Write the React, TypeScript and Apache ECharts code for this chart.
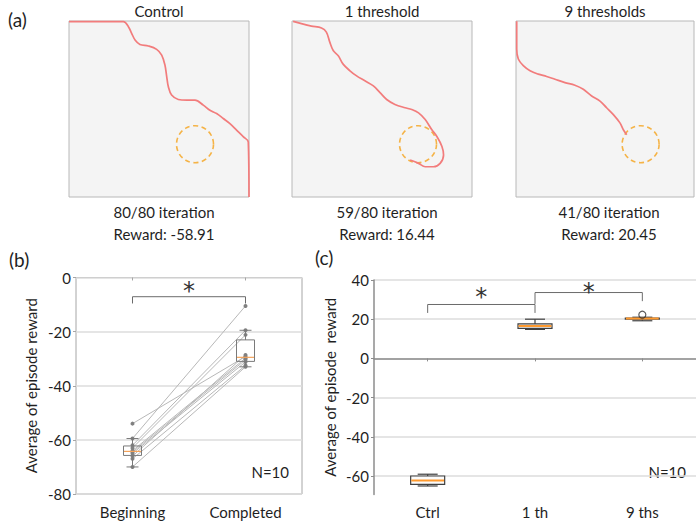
import React, { useEffect, useRef } from 'react';
import * as echarts from 'echarts';

const FONT = 'Lato, "Noto Sans", sans-serif';
const TEXT = '#1f1f1f';

// ---------- panel (a) ----------
const panelTitles = ['Control', '1 threshold', '9 thresholds'];
const iterationTexts = ['80/80 iteration', '59/80 iteration', '41/80 iteration'];
const rewardTexts = ['Reward: -58.91', 'Reward: 16.44', 'Reward: 20.45'];

// trajectories in % of the arena (x from left, y from top)
const controlPath = [
  [0, 0.4], [30.2, 0.4], [33.0, 3.2], [34.8, 7.0], [36.7, 10.8], [39.4, 13.3], [44.1, 14.2],
  [48.7, 16.1], [51.5, 19.4], [53.3, 25.0], [54.3, 31.7], [55.2, 37.4], [57.0, 42.1],
  [60.7, 44.6], [65.4, 45.0], [70.0, 45.0], [74.6, 47.8], [78.3, 50.7], [82.0, 52.6],
  [85.7, 55.4], [89.4, 58.3], [93.1, 62.0], [96.9, 65.8], [99.6, 68.7], [100, 100],
];
const oneThresholdPath = [
  [0.6, 0.2], [5.2, 1.5], [10.8, 2.9], [16.4, 4.0], [19.1, 6.3], [21.0, 12.0], [22.9, 16.8],
  [25.7, 19.7], [28.4, 24.5], [32.2, 28.3], [35.9, 31.2], [40.5, 34.0], [45.2, 36.9],
  [48.9, 40.7], [52.6, 44.6], [57.2, 47.4], [62.8, 49.3], [66.5, 50.3], [70.3, 52.2],
  [74.0, 56.0], [77.7, 61.8], [80.5, 65.6], [83.3, 71.3], [84.2, 76.1], [82.3, 80.9],
  [78.6, 82.8], [74.0, 82.8], [70.3, 80.9], [65.6, 79.0],
];
const nineThresholdPath = [
  [0.4, 0.2], [0.4, 15.9], [1.3, 21.6], [4.1, 25.4], [7.9, 28.3], [12.5, 30.2], [17.2, 31.5],
  [21.9, 33.1], [27.5, 35.0], [33.1, 36.5], [37.8, 38.8], [42.5, 42.6], [47.2, 45.5],
  [50.9, 49.3], [54.7, 53.2], [58.4, 57.9], [60.3, 61.8], [62.2, 64.6],
];
const goalCenter = [70, 70];

// ---------- panel (b) ----------
const bCategories = ['Beginning', 'Completed'];
const bBeginning = [-54, -59.5, -62, -63, -64, -64.5, -65, -66, -67, -70];
const bCompleted = [-29.2, -10.5, -19.5, -21.2, -29.8, -30.4, -31.2, -28.6, -32.5, -33];
// [from, to, top, left leg end, right leg end, star y]
const bBracket = [0, 1, -7.1, -9.6, -9.6, -3];

// ---------- panel (c) ----------
const cCategories = ['Ctrl', '1 th', '9 ths'];
const cMin = [-65.1, 14.8, 19.2];
const cQ1 = [-64.3, 15.3, 20.0];
const cMedian = [-62.3, 16.5, 20.3];
const cQ3 = [-60.0, 17.6, 20.6];
const cMax = [-59.1, 20.0, 21.0];
const cOutliers = [[2, 22.3]];
const cTicks = [-60, -40, -20, 0, 20, 40];
const cBrackets = [
  [0, 1, 27.5, 23.2, 23.2, 34],
  [1, 2, 33.6, 27.8, 29.2, 36.6],
];

function quantile(sorted: number[], p: number) {
  const pos = (sorted.length - 1) * p;
  const lo = Math.floor(pos);
  const hi = Math.ceil(pos);
  return sorted[lo] + (sorted[hi] - sorted[lo]) * (pos - lo);
}
function boxStats(vals: number[]) {
  const s = [...vals].sort((a, b) => a - b);
  const q1 = quantile(s, 0.25);
  const med = quantile(s, 0.5);
  const q3 = quantile(s, 0.75);
  const iqr = q3 - q1;
  const lo = Math.min(...s.filter((v) => v >= q1 - 1.5 * iqr));
  const hi = Math.max(...s.filter((v) => v <= q3 + 1.5 * iqr));
  return [lo, q1, med, q3, hi];
}

function boxRenderer(boxW: number, capW: number, stroke: string, fill: string, median: string, medW: number, lw: number) {
  return (_params: any, api: any) => {
    const c = api.value(0);
    const pts = [1, 2, 3, 4, 5].map((i) => api.coord([c, api.value(i)]));
    const x = pts[0][0];
    const [yLo, yQ1, yMed, yQ3, yHi] = pts.map((p: number[]) => p[1]);
    const ls = { stroke, lineWidth: lw };
    return {
      type: 'group',
      children: [
        { type: 'line', shape: { x1: x, y1: yHi, x2: x, y2: yQ3 }, style: ls },
        { type: 'line', shape: { x1: x, y1: yQ1, x2: x, y2: yLo }, style: ls },
        { type: 'line', shape: { x1: x - capW / 2, y1: yHi, x2: x + capW / 2, y2: yHi }, style: ls },
        { type: 'line', shape: { x1: x - capW / 2, y1: yLo, x2: x + capW / 2, y2: yLo }, style: ls },
        { type: 'rect', shape: { x: x - boxW / 2, y: yQ3, width: boxW, height: yQ1 - yQ3 }, style: { fill, stroke, lineWidth: lw } },
        { type: 'line', shape: { x1: x - boxW / 2 + lw / 2, y1: yMed, x2: x + boxW / 2 - lw / 2, y2: yMed }, style: { stroke: median, lineWidth: medW } },
      ],
    };
  };
}

function bracketRenderer(_params: any, api: any) {
  const x1 = api.value(0);
  const x2 = api.value(1);
  const top = api.value(2);
  const a = api.coord([x1, api.value(3)]);
  const b = api.coord([x1, top]);
  const c = api.coord([x2, top]);
  const d = api.coord([x2, api.value(4)]);
  const s1 = api.coord([x1, api.value(5)]);
  const s2 = api.coord([x2, api.value(5)]);
  return {
    type: 'group',
    children: [
      { type: 'polyline', shape: { points: [a, b, c, d] }, style: { stroke: '#6b6b6b', lineWidth: 1, fill: 'none' } },
      {
        type: 'text',
        x: (s1[0] + s2[0]) / 2,
        y: s1[1] + 5,
        style: {
          text: '*', fontSize: 24, fontFamily: '"DejaVu Sans", sans-serif', fill: '#333333',
          align: 'center', verticalAlign: 'middle', textAlign: 'center', textVerticalAlign: 'middle',
        },
      },
    ],
  };
}

function txt(text: string, x: number, y: number, size: number, align = 'center') {
  return {
    type: 'text',
    x,
    y,
    style: {
      text, fontSize: size, fontFamily: FONT, fill: TEXT,
      align, verticalAlign: 'middle', textAlign: align, textVerticalAlign: 'middle',
    },
  };
}

export default function App() {
  const ref = useRef<HTMLDivElement>(null);
  useEffect(() => {
    document.body.style.margin = '0';
    const chart = echarts.init(ref.current!, undefined, { renderer: 'svg' });

    const aLefts = [69, 292, 516];
    const aWidths = [180, 180, 178];
    const aCenters = [159, 382, 605];
    const aTextCenters = [164, 387, 609];
    const paths = [controlPath, oneThresholdPath, nineThresholdPath];

    const grids: any[] = aLefts.map((l, i) => ({
      left: l, top: 21, width: aWidths[i], height: 176, show: true,
      backgroundColor: '#f4f4f4', borderColor: '#b8b8b8', borderWidth: 1,
    }));
    grids.push({ left: 76, top: 277.5, width: 226, height: 216.5, show: true, backgroundColor: 'transparent', borderColor: '#a6a6a6', borderWidth: 1 });
    grids.push({ left: 374, top: 280, width: 330, height: 214.6 });

    const xAxes: any[] = aLefts.map((_, i) => ({ type: 'value', gridIndex: i, min: 0, max: 100, show: false }));
    const yAxes: any[] = aLefts.map((_, i) => ({ type: 'value', gridIndex: i, min: 0, max: 100, inverse: true, show: false }));

    xAxes.push({
      type: 'category', gridIndex: 3, data: bCategories, boundaryGap: true,
      axisLine: { show: false },
      axisTick: { show: true, alignWithLabel: true, length: 3, lineStyle: { color: '#a6a6a6' } },
      axisLabel: { fontSize: 15, fontFamily: FONT, color: TEXT, margin: 10 },
    });
    yAxes.push({
      type: 'value', gridIndex: 3, min: -80, max: 0, interval: 20,
      name: 'Average of episode reward', nameLocation: 'middle', nameGap: 38,
      nameTextStyle: { fontSize: 15, fontFamily: FONT, color: TEXT },
      axisLine: { show: false },
      axisTick: { show: true, length: 3, lineStyle: { color: '#a6a6a6' } },
      axisLabel: { fontSize: 15, fontFamily: FONT, color: TEXT, margin: 5 },
      splitLine: { show: true, lineStyle: { color: '#dcdcdc', width: 1.5 } },
    });

    xAxes.push({
      type: 'category', gridIndex: 4, data: cCategories, boundaryGap: true,
      axisLine: { show: true, lineStyle: { color: '#8c8c8c', width: 1.5 } },
      axisTick: { show: true, alignWithLabel: true, length: 3, lineStyle: { color: '#8c8c8c' } },
      axisLabel: { fontSize: 15, fontFamily: FONT, color: TEXT, margin: 10 },
    });
    yAxes.push({
      type: 'value', gridIndex: 4, min: -69.5, max: 40,
      name: 'Average of episode  reward', nameLocation: 'middle', nameGap: 37,
      nameTextStyle: { fontSize: 15, fontFamily: FONT, color: TEXT },
      axisLine: { show: true, lineStyle: { color: '#8c8c8c', width: 1.5 } },
      axisTick: { show: true, length: 3, customValues: cTicks, lineStyle: { color: '#8c8c8c' } },
      axisLabel: { fontSize: 15, fontFamily: FONT, color: TEXT, margin: 5, customValues: cTicks },
      splitLine: { show: true, lineStyle: { color: '#dcdcdc', width: 1.5 } },
    });

    const series: any[] = [];
    paths.forEach((p, i) => {
      series.push({
        type: 'line', xAxisIndex: i, yAxisIndex: i, data: p, smooth: 0.35, showSymbol: false, clip: false,
        lineStyle: { color: '#f27c7c', width: 1.7 },
      });
      series.push({
        type: 'scatter', xAxisIndex: i, yAxisIndex: i, data: [goalCenter], symbolSize: 37,
        itemStyle: { color: 'rgba(0,0,0,0)', borderColor: '#f5a31a', borderWidth: 1.6, borderType: [5, 3.5] },
      });
    });

    bBeginning.forEach((v, i) => {
      series.push({
        type: 'line', xAxisIndex: 3, yAxisIndex: 3, data: [v, bCompleted[i]],
        symbol: 'circle', symbolSize: 4, showSymbol: true,
        itemStyle: { color: '#808080' }, lineStyle: { color: '#b8b8b8', width: 1 }, z: 2,
      });
    });
    series.push({
      type: 'custom', xAxisIndex: 3, yAxisIndex: 3,
      data: [[0, ...boxStats(bBeginning)], [1, ...boxStats(bCompleted)]],
      encode: { x: 0, y: [1, 2, 3, 4, 5] },
      renderItem: boxRenderer(18, 12, '#7a7a7a', 'rgba(255,255,255,0)', '#f5a35a', 1.2, 1),
      z: 3,
    });
    series.push({
      type: 'custom', xAxisIndex: 3, yAxisIndex: 3, data: [bBracket],
      encode: { x: [0, 1], y: [2, 3, 4, 5] },
      renderItem: bracketRenderer, z: 4,
    });

    series.push({
      type: 'custom', xAxisIndex: 4, yAxisIndex: 4,
      data: cCategories.map((_, i) => [i, cMin[i], cQ1[i], cMedian[i], cQ3[i], cMax[i]]),
      encode: { x: 0, y: [1, 2, 3, 4, 5] },
      renderItem: boxRenderer(34, 20, '#404040', '#fbfbfb', '#ff9a2e', 2, 1.2),
      z: 3,
    });
    series.push({
      type: 'scatter', xAxisIndex: 4, yAxisIndex: 4, data: cOutliers, symbol: 'circle', symbolSize: 7,
      itemStyle: { color: 'rgba(255,255,255,0)', borderColor: '#303030', borderWidth: 1.2 }, z: 4,
    });
    series.push({
      type: 'custom', xAxisIndex: 4, yAxisIndex: 4, data: cBrackets,
      encode: { x: [0, 1], y: [2, 3, 4, 5] },
      renderItem: bracketRenderer, z: 4,
    });

    const graphics: any[] = [txt('(a)', 8, 19, 19, 'left'), txt('(b)', 9, 259, 19, 'left'), txt('(c)', 315, 257, 19, 'left')];
    panelTitles.forEach((t, i) => graphics.push(txt(t, aCenters[i], 11, 15)));
    iterationTexts.forEach((t, i) => graphics.push(txt(t, aTextCenters[i], 212, 15)));
    rewardTexts.forEach((t, i) => graphics.push(txt(t, aTextCenters[i], 234, 15)));
    graphics.push(txt('N=10', 289, 472, 15, 'right'));
    graphics.push(txt('N=10', 686, 472, 15, 'right'));

    chart.setOption({
      animation: false,
      backgroundColor: '#ffffff',
      grid: grids,
      xAxis: xAxes,
      yAxis: yAxes,
      series,
      graphic: graphics,
    });
    return () => chart.dispose();
  }, []);
  return <div ref={ref} style={{ width: 696, height: 525 }} />;
}
